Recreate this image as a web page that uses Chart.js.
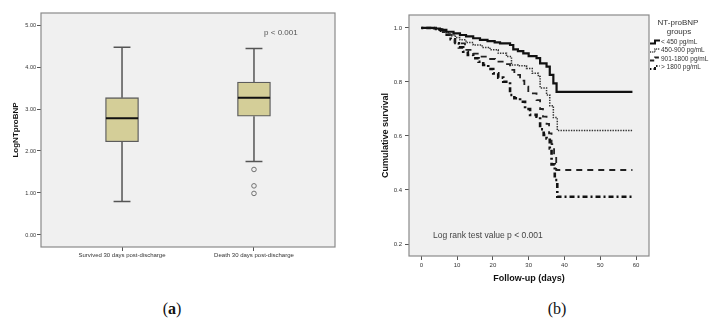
<!DOCTYPE html>
<html>
<head>
<meta charset="utf-8">
<script src="https://cdn.jsdelivr.net/npm/chart.js@4.4.1/dist/chart.umd.min.js"></script>
<style>
  body { margin: 0; background: #fff; width: 713px; height: 322px; position: relative; overflow: hidden; }
  canvas { position: absolute; }
  #boxChart { left: 0; top: 0; }
  #kmChart { left: 360px; top: 0; }
  .cap { position: absolute; top: 301px; line-height: 16px; font-family: "Liberation Serif", serif; font-size: 16px; color: #111; transform: translateX(-50%); }
</style>
</head>
<body>
<canvas id="boxChart" width="356" height="265"></canvas>
<canvas id="kmChart" width="353" height="288"></canvas>
<div class="cap" style="left:172px">(<b>a</b>)</div>
<div class="cap" style="left:557px">(b)</div>
<script>
// (a) box plot values
const boxGroups = ['Survived 30 days post-discharge', 'Death 30 days post-discharge'];
const boxPos = [1, 2];
const boxMin = [0.80, 1.75];
const boxQ1 = [2.22, 2.83];
const boxMedian = [2.78, 3.27];
const boxQ3 = [3.27, 3.64];
const boxMax = [4.47, 4.44];
const outlierPos = [2, 2, 2];
const outlierValues = [1.56, 1.17, 0.99];
const logTicks = [0, 1, 2, 3, 4, 5];

// (b) Kaplan-Meier curves
const kmGroups = ['< 450 pg/mL', '450-900 pg/mL', '901-1800 pg/mL', '> 1800 pg/mL'];
const daysLow = [0, 3.5, 5.2, 7, 9, 10.8, 12.5, 14.5, 16.4, 18.5, 20.5, 22, 24.8, 25.7, 27, 28.5, 30, 32.2, 33.2, 35, 35.9, 36.9, 37.8, 59];
const survLow = [1, 0.998, 0.993, 0.986, 0.98, 0.974, 0.969, 0.962, 0.956, 0.951, 0.947, 0.943, 0.937, 0.921, 0.914, 0.906, 0.896, 0.888, 0.869, 0.857, 0.826, 0.795, 0.763, 0.763];
const daysMid = [0, 4, 5.7, 7, 8, 9.5, 10.8, 12.5, 14.5, 17, 19.2, 21.5, 23.8, 25.2, 27, 29.4, 31, 32.7, 33.2, 35, 35.9, 36.9, 38, 59];
const survMid = [1, 0.997, 0.99, 0.982, 0.974, 0.965, 0.956, 0.946, 0.937, 0.928, 0.919, 0.906, 0.894, 0.863, 0.86, 0.85, 0.832, 0.82, 0.778, 0.752, 0.712, 0.668, 0.62, 0.62];
const daysHigh = [0, 4, 6, 7.5, 8.5, 9.4, 12.2, 14.5, 16.4, 18.5, 20.6, 23, 24.8, 26, 27.6, 28.8, 29.9, 32.2, 33.2, 34, 35, 35.7, 36.4, 37.1, 37.7, 59];
const survHigh = [1, 0.995, 0.985, 0.975, 0.962, 0.943, 0.919, 0.905, 0.894, 0.885, 0.875, 0.866, 0.845, 0.826, 0.805, 0.783, 0.758, 0.733, 0.7, 0.672, 0.645, 0.61, 0.57, 0.523, 0.474, 0.474];
const daysTop = [0, 4, 5.5, 7.1, 8.2, 9.4, 10.5, 11.7, 13, 14.5, 16, 17.3, 18.7, 20.1, 21.5, 22.9, 24.8, 26, 27.6, 29, 30.4, 32.2, 33.2, 34.2, 35, 35.9, 36.4, 37.3, 38, 59];
const survTop = [1, 0.995, 0.99, 0.975, 0.958, 0.943, 0.928, 0.912, 0.9, 0.888, 0.875, 0.863, 0.848, 0.832, 0.816, 0.801, 0.752, 0.74, 0.727, 0.7, 0.678, 0.671, 0.625, 0.604, 0.591, 0.554, 0.495, 0.437, 0.375, 0.37];
const dayTicks = [0, 10, 20, 30, 40, 50, 60];
const survTicks = [0.2, 0.4, 0.6, 0.8, 1.0];

const FONT = '"Liberation Sans", Arial, sans-serif';

// grey plot background and frame, SPSS style
const framePlugin = {
    id: 'frame',
    beforeDatasetsDraw(chart) {
        const a = chart.chartArea;
        const ctx = chart.ctx;
        ctx.save();
        ctx.fillStyle = '#f0f0f0';
        ctx.fillRect(a.left, a.top, a.right - a.left, a.bottom - a.top);
        ctx.restore();
    },
    afterDatasetsDraw(chart) {
        const a = chart.chartArea;
        const ctx = chart.ctx;
        ctx.save();
        ctx.strokeStyle = '#8a8a8a';
        ctx.lineWidth = 1.2;
        ctx.strokeRect(a.left, a.top, a.right - a.left, a.bottom - a.top);
        ctx.restore();
    }
};

function tickAxis(extra) {
    return Object.assign({
        type: 'linear',
        grid: { display: true, offset: false, drawOnChartArea: false, drawTicks: true, tickLength: 4, color: '#555' },
        border: { display: false },
    }, extra);
}

/**
 * (a) box plot
 */
const whiskerPts = [];
const capPts = [];
const medianPts = [];
boxPos.forEach((c, i) => {
    whiskerPts.push({x: c, y: boxMin[i]}, {x: c, y: boxQ1[i]}, {x: c, y: null},
                    {x: c, y: boxQ3[i]}, {x: c, y: boxMax[i]}, {x: c, y: null});
    capPts.push({x: c - 0.064, y: boxMin[i]}, {x: c + 0.064, y: boxMin[i]}, {x: c, y: null},
                {x: c - 0.064, y: boxMax[i]}, {x: c + 0.064, y: boxMax[i]}, {x: c, y: null});
    medianPts.push({x: c - 0.122, y: boxMedian[i]}, {x: c + 0.122, y: boxMedian[i]}, {x: c, y: null});
});

new Chart(document.getElementById('boxChart'), {
    type: 'bar',
    data: {
        datasets: [{
            type: 'scatter',
            data: outlierPos.map((p, i) => ({x: p, y: outlierValues[i]})),
            pointRadius: 2.3,
            pointBackgroundColor: 'rgba(0,0,0,0)',
            pointBorderColor: '#707070',
            pointBorderWidth: 1,
            order: 0
        }, {
            type: 'line',
            data: medianPts,
            borderColor: '#111',
            borderWidth: 2,
            pointRadius: 0,
            spanGaps: false,
            order: 1
        }, {
            type: 'line',
            data: whiskerPts.concat(capPts),
            borderColor: '#555',
            borderWidth: 1.5,
            pointRadius: 0,
            spanGaps: false,
            order: 2
        }, {
            type: 'bar',
            data: boxPos.map((p, i) => ({x: p, y: [boxQ1[i], boxQ3[i]]})),
            backgroundColor: '#d4ce98',
            borderColor: '#5c5c5c',
            borderWidth: 1.3,
            borderSkipped: false,
            barThickness: 33,
            order: 3
        }]
    },
    options: {
        responsive: false,
        animation: false,
        devicePixelRatio: 1,
        layout: { padding: { left: 7, top: 13, right: 21, bottom: 0 } },
        plugins: { legend: { display: false }, tooltip: { enabled: false } },
        scales: {
            x: tickAxis({
                min: 0.386, max: 2.614, offset: false,
                afterBuildTicks: s => { s.ticks = boxPos.map(v => ({value: v})); },
                afterFit: s => { s.height = 18; },
                ticks: {
                    autoSkip: false, maxRotation: 0, padding: 1, color: '#333',
                    font: { family: FONT, size: 6 },
                    callback: (v, i) => boxGroups[i]
                }
            }),
            y: tickAxis({
                min: -0.286, max: 5.286,
                afterBuildTicks: s => { s.ticks = logTicks.map(v => ({value: v})); },
                afterFit: s => { s.width = 34; },
                ticks: {
                    padding: 1, color: '#333',
                    font: { family: FONT, size: 5.5 },
                    callback: v => v.toFixed(2)
                },
                title: {
                    display: true, text: 'LogNTproBNP', color: '#111',
                    font: { family: FONT, size: 8, weight: 'bold' },
                    padding: { top: 4, bottom: 4 }
                }
            })
        }
    },
    plugins: [framePlugin, {
        id: 'pText',
        afterDraw(chart) {
            const ctx = chart.ctx;
            ctx.save();
            ctx.font = '8px ' + FONT;
            ctx.fillStyle = '#555';
            ctx.textAlign = 'center';
            ctx.textBaseline = 'middle';
            ctx.fillText('p < 0.001', chart.scales.x.getPixelForValue(2.204), chart.scales.y.getPixelForValue(4.81));
            ctx.restore();
        }
    }]
});

/**
 * (b) survival curves
 */
const kmSeries = [[daysLow, survLow], [daysMid, survMid], [daysHigh, survHigh], [daysTop, survTop]];
const kmLook = [
    { dash: [], width: 2.2, color: '#111' },
    { dash: [1.4, 1.2], width: 1.5, color: '#333' },
    { dash: [6, 5], width: 1.8, color: '#222' },
    { dash: [2, 3, 5, 3], width: 2.6, color: '#111' }
];

new Chart(document.getElementById('kmChart'), {
    type: 'line',
    data: {
        datasets: kmSeries.map((s, k) => ({
            label: kmGroups[k],
            data: s[0].map((d, i) => ({x: d, y: s[1][i]})),
            stepped: true,
            borderColor: kmLook[k].color,
            borderWidth: kmLook[k].width,
            borderDash: kmLook[k].dash,
            pointRadius: 0,
            fill: false
        }))
    },
    options: {
        responsive: false,
        animation: false,
        devicePixelRatio: 1,
        layout: { padding: { left: 16, top: 15, right: 64, bottom: 0 } },
        plugins: { legend: { display: false }, tooltip: { enabled: false } },
        scales: {
            x: tickAxis({
                min: -3.44, max: 63.63,
                afterBuildTicks: s => { s.ticks = dayTicks.map(v => ({value: v})); },
                afterFit: s => { s.height = 32; },
                ticks: {
                    autoSkip: false, maxRotation: 0, padding: 2, color: '#333',
                    font: { family: FONT, size: 6 }
                },
                title: {
                    display: true, text: 'Follow-up (days)', color: '#111',
                    font: { family: FONT, size: 9, weight: 'bold' },
                    padding: { top: 4, bottom: 4 }
                }
            }),
            y: tickAxis({
                min: 0.1556, max: 1.048,
                afterBuildTicks: s => { s.ticks = survTicks.map(v => ({value: v})); },
                afterFit: s => { s.width = 33; },
                ticks: {
                    padding: 3, color: '#333',
                    font: { family: FONT, size: 6 },
                    callback: v => v.toFixed(1)
                },
                title: {
                    display: true, text: 'Cumulative survival', color: '#111',
                    font: { family: FONT, size: 9, weight: 'bold' },
                    padding: { top: 4, bottom: 4 }
                }
            })
        }
    },
    plugins: [framePlugin, {
        id: 'kmText',
        afterDraw(chart) {
            const ctx = chart.ctx;
            const x = chart.scales.x, y = chart.scales.y;
            ctx.save();
            ctx.font = '8.5px ' + FONT;
            ctx.fillStyle = '#444';
            ctx.textAlign = 'center';
            ctx.textBaseline = 'middle';
            ctx.fillText('Log rank test value p < 0.001', x.getPixelForValue(18.6), y.getPixelForValue(0.23));

            // legend on the right
            ctx.font = '8px ' + FONT;
            ctx.fillStyle = '#333';
            ctx.fillText('NT-proBNP', 318, 23);
            ctx.fillText('groups', 319, 32);
            const rowY = [42, 50.5, 59, 67.5];
            chart.data.datasets.forEach((ds, k) => {
                const ry = rowY[k];
                ctx.save();
                ctx.strokeStyle = ds.borderColor;
                ctx.lineWidth = Math.min(ds.borderWidth, 2);
                ctx.setLineDash(ds.borderDash.map(v => v * 0.7));
                ctx.beginPath();
                ctx.moveTo(290, ry + 1.5);
                ctx.lineTo(295, ry + 1.5);
                ctx.lineTo(295, ry - 1.5);
                ctx.lineTo(300, ry - 1.5);
                ctx.stroke();
                ctx.restore();
                ctx.font = '6.5px ' + FONT;
                ctx.textAlign = 'left';
                ctx.fillText(ds.label, 301, ry);
            });
            ctx.restore();
        }
    }]
});
</script>
</body>
</html>
